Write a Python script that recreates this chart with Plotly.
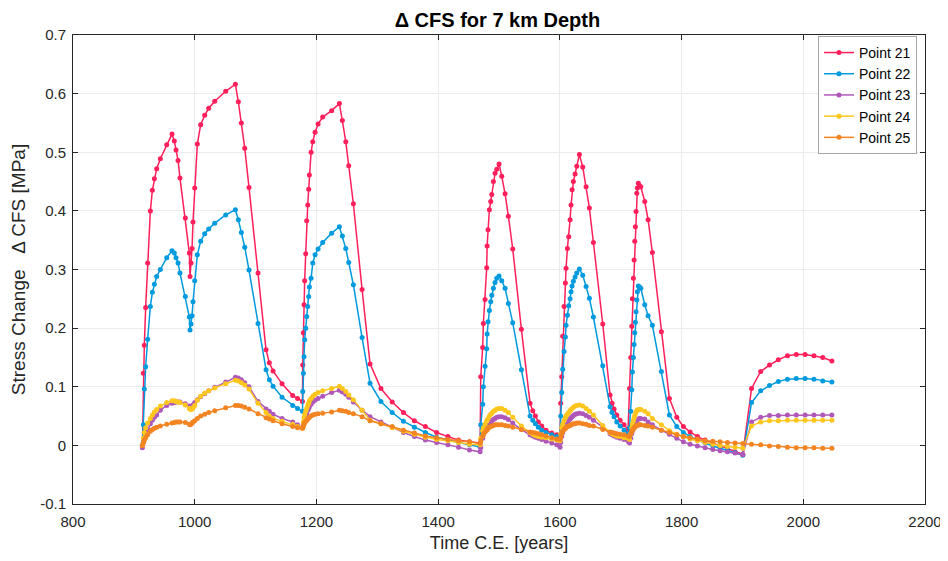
import plotly.graph_objects as go

# ---- data ----
years = [
    914, 915.6, 917.2, 919.4, 922.7, 927.1, 930.4, 933.7, 937.5, 943.5, 954, 962.7, 966.5, 969.3,
    972.6, 975.8, 984.6, 991.2, 992.3, 994, 995.6, 997.2, 1000, 1004.3, 1009.8, 1016.4, 1023,
    1032.9, 1050.9, 1066.8, 1071.7, 1076.6, 1082.2, 1089.2, 1104, 1117.2, 1122.6, 1128.7, 1143.5,
    1161, 1169, 1177,
    1177.5, 1178.5, 1179.6, 1180.7, 1182.4, 1184.0, 1185.7, 1187.3, 1188.4, 1191.2, 1194, 1197.8,
    1202.7, 1210.3, 1225, 1237.7, 1242.6, 1248.2, 1253.1, 1260.7, 1275, 1288.1,
    1306, 1324.5, 1343, 1361, 1379, 1397.5, 1416, 1433.5, 1451.5, 1469,
    1470.0, 1473.2, 1474.3, 1477.1, 1479.8, 1480.5, 1482.0, 1484.2, 1486.4, 1488.1, 1490.8, 1493.5,
    1496.3, 1500.1, 1504.5, 1510.0, 1515.4, 1522.6, 1536.8, 1551.0, 1555.5, 1559.8, 1564.7, 1570.2,
    1577.3, 1586.7, 1594.9, 1600.3,
    1601.4, 1603.1, 1604.7, 1606.9, 1609.1, 1610.2, 1612.4, 1614.6, 1616.8, 1618.4, 1620.1, 1622.2,
    1625.0, 1627.8, 1632.1, 1637.6, 1643.1, 1648.5, 1655.1, 1670.5, 1682.5, 1685.8, 1689.1, 1693.5,
    1699.0, 1705.5, 1712.1,
    1714.5, 1716.5, 1718.2, 1719.2, 1720.8, 1722.0, 1723.1, 1724.1, 1725.2, 1726.4, 1727.4, 1729.0,
    1731.0, 1733.0, 1739.5, 1745.0, 1752.0, 1766.8, 1780.0, 1792.1, 1803.0, 1814.0, 1826.0, 1838.6,
    1851.3, 1863.3, 1875.3, 1887.9, 1900.6,
    1915, 1930, 1944.5, 1959, 1974, 1988.5, 2003, 2017.5, 2032, 2047,
]

point21 = [
    0.000, 0.123, 0.171, 0.235, 0.311, 0.400, 0.435, 0.455, 0.472, 0.489, 0.513, 0.531, 0.519, 0.504,
    0.486, 0.456, 0.388, 0.328, 0.288, 0.311, 0.336, 0.381, 0.439, 0.514, 0.547, 0.563, 0.575,
    0.587, 0.604, 0.616, 0.586, 0.550, 0.507, 0.440, 0.294, 0.163, 0.141, 0.127, 0.105,
    0.085, 0.080, 0.075,
    0.137, 0.192, 0.240, 0.281, 0.327, 0.383, 0.410, 0.437, 0.461, 0.500, 0.518, 0.534,
    0.548, 0.560, 0.571, 0.583, 0.554, 0.518, 0.477, 0.412, 0.266, 0.139,
    0.097, 0.074, 0.056, 0.042, 0.032, 0.022, 0.015, 0.009, 0.006, 0.004,
    0.117, 0.167, 0.208, 0.249, 0.303, 0.340, 0.368, 0.402, 0.416, 0.428, 0.450, 0.464,
    0.471, 0.480, 0.459, 0.429, 0.391, 0.335, 0.198, 0.072, 0.059, 0.050, 0.040, 0.033,
    0.026, 0.021, 0.018, 0.016,
    0.072, 0.117, 0.186, 0.237, 0.277, 0.302, 0.336, 0.356, 0.385, 0.410, 0.436, 0.450,
    0.463, 0.476, 0.496, 0.475, 0.441, 0.405, 0.346, 0.207, 0.086, 0.072, 0.062, 0.052,
    0.043, 0.035, 0.027,
    0.097, 0.150, 0.203, 0.250, 0.285, 0.316, 0.348, 0.373, 0.399, 0.430, 0.439, 0.447,
    0.443, 0.441, 0.416, 0.385, 0.329, 0.194, 0.080, 0.048, 0.032, 0.023, 0.015, 0.009,
    0.004, -0.001, -0.006, -0.011, -0.015,
    0.097, 0.126, 0.137, 0.146, 0.153, 0.155, 0.155, 0.153, 0.150, 0.144,
]

point22 = [
    0.000, 0.035, 0.096, 0.134, 0.181, 0.237, 0.261, 0.275, 0.288, 0.300, 0.320, 0.332, 0.328, 0.320,
    0.311, 0.294, 0.254, 0.219, 0.197, 0.207, 0.221, 0.245, 0.281, 0.325, 0.348, 0.361, 0.369,
    0.379, 0.393, 0.402, 0.385, 0.363, 0.338, 0.299, 0.208, 0.129, 0.112, 0.101, 0.082,
    0.068, 0.063, 0.058,
    0.092, 0.123, 0.151, 0.180, 0.200, 0.220, 0.237, 0.254, 0.270, 0.285, 0.311, 0.325,
    0.335, 0.346, 0.362, 0.373, 0.357, 0.336, 0.312, 0.274, 0.184, 0.106,
    0.075, 0.056, 0.041, 0.031, 0.022, 0.014, 0.009, 0.005, 0.001, -0.003,
    0.035, 0.070, 0.100, 0.135, 0.165, 0.190, 0.211, 0.230, 0.245, 0.256, 0.268, 0.278,
    0.285, 0.289, 0.281, 0.268, 0.242, 0.209, 0.129, 0.050, 0.043, 0.037, 0.031, 0.026,
    0.022, 0.018, 0.015, 0.013,
    0.050, 0.090, 0.130, 0.160, 0.185, 0.205, 0.222, 0.238, 0.250, 0.262, 0.272, 0.280,
    0.287, 0.294, 0.301, 0.290, 0.271, 0.251, 0.219, 0.136, 0.066, 0.056, 0.049, 0.040,
    0.033, 0.026, 0.020,
    0.030, 0.058, 0.095, 0.125, 0.150, 0.172, 0.192, 0.210, 0.228, 0.248, 0.262, 0.272,
    0.270, 0.268, 0.240, 0.221, 0.205, 0.126, 0.052, 0.032, 0.022, 0.015, 0.009, 0.004,
    -0.001, -0.005, -0.008, -0.012, -0.017,
    0.073, 0.093, 0.102, 0.109, 0.113, 0.114, 0.114, 0.113, 0.110, 0.108,
]

point23 = [
    -0.004, 0.005, 0.012, 0.018, 0.027, 0.037, 0.043, 0.048, 0.052, 0.060, 0.068, 0.072, 0.073, 0.074,
    0.074, 0.074, 0.071, 0.067, 0.066, 0.066, 0.067, 0.069, 0.073, 0.078, 0.083, 0.088, 0.093,
    0.099, 0.108, 0.116, 0.115, 0.112, 0.107, 0.100, 0.075, 0.062, 0.058, 0.053, 0.046,
    0.040, 0.035, 0.030,
    0.030, 0.035, 0.040, 0.045, 0.050, 0.055, 0.060, 0.063, 0.066, 0.070, 0.074, 0.077,
    0.080, 0.084, 0.090, 0.094, 0.091, 0.087, 0.082, 0.074, 0.060, 0.049,
    0.040, 0.031, 0.022, 0.015, 0.009, 0.005, 0.001, -0.003, -0.008, -0.011,
    -0.004, 0.012, 0.018, 0.024, 0.029, 0.031, 0.034, 0.037, 0.040, 0.042, 0.044, 0.046,
    0.048, 0.049, 0.049, 0.047, 0.044, 0.038, 0.027, 0.018, 0.016, 0.014, 0.012, 0.010,
    0.007, 0.004, 0.001, -0.003,
    0.005, 0.015, 0.022, 0.028, 0.033, 0.036, 0.040, 0.043, 0.045, 0.047, 0.049, 0.051,
    0.053, 0.054, 0.055, 0.054, 0.051, 0.048, 0.043, 0.031, 0.020, 0.018, 0.016, 0.014,
    0.012, 0.010, 0.007,
    0.004, 0.012, 0.020, 0.025, 0.030, 0.034, 0.037, 0.039, 0.041, 0.043, 0.044, 0.045,
    0.046, 0.046, 0.045, 0.040, 0.035, 0.026, 0.019, 0.012, 0.006, 0.002, -0.001, -0.004,
    -0.007, -0.009, -0.011, -0.013, -0.016,
    0.040, 0.048, 0.051, 0.051, 0.052, 0.052, 0.052, 0.052, 0.052, 0.052,
]

point24 = [
    0.000, 0.012, 0.022, 0.030, 0.038, 0.046, 0.052, 0.057, 0.061, 0.067, 0.073, 0.076, 0.076, 0.075,
    0.074, 0.073, 0.069, 0.063, 0.062, 0.061, 0.062, 0.064, 0.068, 0.077, 0.084, 0.089, 0.093,
    0.098, 0.105, 0.111, 0.110, 0.107, 0.103, 0.096, 0.072, 0.056, 0.050, 0.046, 0.041,
    0.036, 0.032, 0.029,
    0.031, 0.040, 0.047, 0.053, 0.058, 0.063, 0.068, 0.072, 0.076, 0.080, 0.084, 0.087,
    0.090, 0.093, 0.097, 0.101, 0.097, 0.092, 0.086, 0.078, 0.060, 0.043,
    0.037, 0.030, 0.024, 0.019, 0.014, 0.010, 0.008, 0.005, 0.002, 0.001,
    0.012, 0.025, 0.030, 0.036, 0.041, 0.043, 0.046, 0.050, 0.053, 0.055, 0.058, 0.060,
    0.062, 0.063, 0.063, 0.060, 0.056, 0.048, 0.033, 0.022, 0.019, 0.017, 0.015, 0.014,
    0.013, 0.011, 0.009, 0.008,
    0.020, 0.030, 0.036, 0.042, 0.047, 0.050, 0.053, 0.056, 0.059, 0.061, 0.063, 0.065,
    0.067, 0.068, 0.069, 0.067, 0.063, 0.058, 0.052, 0.034, 0.022, 0.020, 0.018, 0.016,
    0.015, 0.013, 0.012,
    0.010, 0.020, 0.030, 0.036, 0.042, 0.047, 0.051, 0.054, 0.057, 0.059, 0.060, 0.061,
    0.061, 0.061, 0.058, 0.054, 0.046, 0.035, 0.025, 0.019, 0.015, 0.011, 0.008, 0.005,
    0.002, 0.000, -0.002, -0.003, -0.005,
    0.033, 0.040, 0.042, 0.042, 0.043, 0.043, 0.043, 0.043, 0.043, 0.043,
]

point25 = [
    0.000, 0.005, 0.009, 0.013, 0.018, 0.024, 0.027, 0.029, 0.031, 0.033, 0.036, 0.038, 0.039, 0.040,
    0.040, 0.040, 0.039, 0.036, 0.035, 0.036, 0.038, 0.040, 0.042, 0.046, 0.050, 0.053, 0.056,
    0.059, 0.064, 0.068, 0.068, 0.067, 0.065, 0.062, 0.054, 0.047, 0.045, 0.042, 0.037,
    0.032, 0.030, 0.029,
    0.030, 0.033, 0.036, 0.039, 0.041, 0.043, 0.045, 0.047, 0.048, 0.050, 0.052, 0.053,
    0.054, 0.055, 0.057, 0.060, 0.059, 0.058, 0.056, 0.054, 0.049, 0.042,
    0.037, 0.032, 0.026, 0.021, 0.016, 0.013, 0.010, 0.008, 0.006, 0.003,
    0.008, 0.016, 0.019, 0.023, 0.026, 0.027, 0.029, 0.031, 0.032, 0.033, 0.034, 0.035,
    0.035, 0.035, 0.035, 0.034, 0.033, 0.031, 0.027, 0.023, 0.022, 0.021, 0.020, 0.018,
    0.016, 0.013, 0.011, 0.010,
    0.014, 0.020, 0.024, 0.027, 0.029, 0.030, 0.032, 0.033, 0.034, 0.035, 0.036, 0.037,
    0.037, 0.038, 0.038, 0.037, 0.036, 0.034, 0.033, 0.027, 0.023, 0.022, 0.021, 0.020,
    0.019, 0.018, 0.016,
    0.015, 0.020, 0.024, 0.026, 0.028, 0.030, 0.031, 0.032, 0.033, 0.034, 0.034, 0.035,
    0.035, 0.035, 0.034, 0.033, 0.031, 0.026, 0.022, 0.018, 0.015, 0.013, 0.011, 0.008,
    0.007, 0.006, 0.005, 0.004, 0.003,
    0.002, 0.001, -0.001, -0.002, -0.003, -0.004, -0.004, -0.004, -0.005, -0.005,
]

series_names = ["Point 21", "Point 22", "Point 23", "Point 24", "Point 25"]
series_values = [point21, point22, point23, point24, point25]
series_colors = ["#FF1F5B", "#009ADE", "#AF58BA", "#FFC61E", "#F28522"]

x_ticks = [800, 1000, 1200, 1400, 1600, 1800, 2000, 2200]
y_ticks = [-0.1, 0, 0.1, 0.2, 0.3, 0.4, 0.5, 0.6, 0.7]
y_tick_text = ["-0.1", "0", "0.1", "0.2", "0.3", "0.4", "0.5", "0.6", "0.7"]

FONT = "Liberation Sans, Arial, Helvetica, sans-serif"

fig = go.Figure()
for name, vals, col in zip(series_names, series_values, series_colors):
    fig.add_trace(go.Scatter(
        x=years, y=vals, name=name, mode="lines+markers",
        line=dict(color=col, width=1.5),
        marker=dict(color=col, size=5),
    ))

axis_common = dict(
    showgrid=True, gridcolor="#ebebeb", gridwidth=1,
    showline=True, linecolor="#262626", linewidth=0.8, mirror="ticks",
    ticks="inside", ticklen=5, tickcolor="#262626",
    zeroline=False, automargin=False,
    tickfont=dict(family=FONT, size=15, color="#262626"),
)

FIG_W, FIG_H = 940, 545

fig.update_layout(
    width=FIG_W, height=FIG_H,
    margin=dict(l=65, r=23, t=27, b=49, autoexpand=False),
    paper_bgcolor="white", plot_bgcolor="white",
    title=dict(text="<b>Δ CFS for 7 km Depth</b>", x=0.5207, xanchor="center",
               y=1 - 12 / FIG_H, yanchor="middle", automargin=False,
               font=dict(family=FONT, size=20, color="black")),
    xaxis=dict(axis_common, range=[800, 2200], tickvals=x_ticks, ticklabelstandoff=4,
               ticklabeloverflow="allow",
               title=dict(text="Time C.E. [years]", standoff=11,
                          font=dict(family=FONT, size=18, color="#262626"))),
    yaxis=dict(axis_common, range=[-0.1, 0.7], tickvals=y_ticks, ticktext=y_tick_text,
               ticklabelstandoff=3,
               title=dict(text="Stress Change\u00a0\u00a0 Δ CFS [MPa]", standoff=10,
                          font=dict(family=FONT, size=19, color="#262626"))),
    legend=dict(x=0.9906, y=0.998, xanchor="right", yanchor="top",
                bgcolor="white", bordercolor="#a6a6a6", borderwidth=1,
                font=dict(family=FONT, size=14, color="black"),
                tracegroupgap=0, itemwidth=30),
    showlegend=True,
)

fig.write_html("out.html")
